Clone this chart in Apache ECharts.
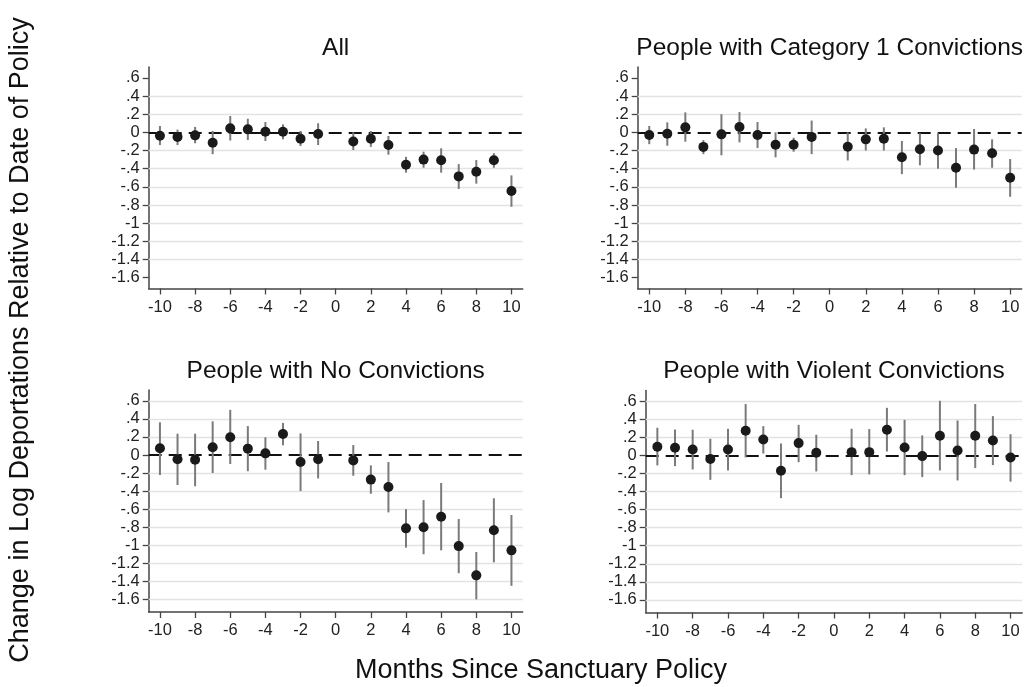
<!DOCTYPE html>
<html>
<head>
<meta charset="utf-8">
<script src="https://cdn.jsdelivr.net/npm/echarts@6/dist/echarts.min.js"></script>
<style>
html,body{margin:0;padding:0;background:#fff;}
#chart{width:1035px;height:687px;}
</style>
</head>
<body>
<div id="chart"></div>
<script>
// ---------- data ----------
const months = [-10,-9,-8,-7,-6,-5,-4,-3,-2,-1,1,2,3,4,5,6,7,8,9,10];

const panelTitles = ['All','People with Category 1 Convictions','People with No Convictions','People with Violent Convictions'];

const allEst = [-0.037,-0.05,-0.033,-0.114,0.044,0.033,0.007,0.007,-0.07,-0.018,-0.1,-0.07,-0.14,-0.356,-0.30,-0.308,-0.485,-0.433,-0.308,-0.646];
const allLo  = [-0.14,-0.14,-0.12,-0.24,-0.09,-0.085,-0.095,-0.077,-0.15,-0.14,-0.195,-0.16,-0.246,-0.444,-0.39,-0.444,-0.624,-0.565,-0.39,-0.82];
const allHi  = [0.07,0.03,0.06,0.015,0.18,0.15,0.114,0.088,0.015,0.1,0.0,0.015,-0.04,-0.27,-0.213,-0.176,-0.35,-0.305,-0.23,-0.474];

const cat1Est = [-0.03,-0.015,0.055,-0.16,-0.022,0.059,-0.03,-0.136,-0.136,-0.05,-0.158,-0.077,-0.07,-0.275,-0.187,-0.2,-0.39,-0.19,-0.23,-0.5];
const cat1Lo  = [-0.13,-0.147,-0.103,-0.24,-0.253,-0.11,-0.173,-0.275,-0.213,-0.24,-0.31,-0.2,-0.2,-0.46,-0.363,-0.4,-0.61,-0.41,-0.39,-0.71];
const cat1Hi  = [0.07,0.11,0.22,-0.085,0.2,0.224,0.114,0.0,-0.06,0.13,0.0,0.044,0.055,-0.095,-0.01,-0.01,-0.173,0.037,-0.077,-0.294];

const noneEst = [0.074,-0.048,-0.052,0.085,0.196,0.07,0.018,0.233,-0.078,-0.048,-0.06,-0.273,-0.355,-0.813,-0.80,-0.684,-1.01,-1.334,-0.835,-1.057];
const noneLo  = [-0.222,-0.333,-0.347,-0.2,-0.1,-0.18,-0.163,0.107,-0.4,-0.26,-0.23,-0.43,-0.636,-1.027,-1.10,-1.057,-1.31,-1.6,-1.19,-1.45];
const noneHi  = [0.362,0.236,0.236,0.373,0.5,0.32,0.196,0.355,0.24,0.155,0.11,-0.115,-0.078,-0.6,-0.5,-0.31,-0.71,-1.075,-0.48,-0.665];

const violEst = [0.096,0.085,0.067,-0.04,0.067,0.273,0.177,-0.17,0.137,0.03,0.037,0.037,0.285,0.089,-0.007,0.218,0.055,0.218,0.166,-0.022];
const violLo  = [-0.11,-0.118,-0.155,-0.27,-0.166,-0.022,0.022,-0.473,-0.074,-0.177,-0.218,-0.21,0.044,-0.218,-0.24,-0.166,-0.277,-0.14,-0.107,-0.29];
const violHi  = [0.307,0.288,0.285,0.185,0.296,0.57,0.325,0.133,0.34,0.23,0.296,0.292,0.528,0.395,0.222,0.606,0.388,0.57,0.436,0.236];

const xTickValues = [-10,-8,-6,-4,-2,0,2,4,6,8,10];
const yTickValues = [0.6,0.4,0.2,0,-0.2,-0.4,-0.6,-0.8,-1,-1.2,-1.4,-1.6];
const yTickLabels = ['.6','.4','.2','0','-.2','-.4','-.6','-.8','-1','-1.2','-1.4','-1.6'];
const gridValuesTop = [0.4,0.2,-0.2,-0.4,-0.6,-0.8,-1,-1.2,-1.4];
const gridValuesBottom = [0.6,0.4,0.2,-0.2,-0.4,-0.6,-0.8,-1,-1.2,-1.4,-1.6];
const zeroLine = [0];

const xTitle = 'Months Since Sanctuary Policy';
const yTitle = 'Change in Log Deportations Relative to Date of Policy';

// ---------- layout / style ----------
const FONT = "'Liberation Sans', Arial, Helvetica, sans-serif";
const panels = [
  {est: allEst,  lo: allLo,  hi: allHi,  grid: {left:148.7, top:67,  width:374,   height:221.5}, xr:[-10.64,10.64], yr:[-1.72,0.72], gl: gridValuesTop},
  {est: cat1Est, lo: cat1Lo, hi: cat1Hi, grid: {left:637.7, top:67,  width:384,   height:221.5}, xr:[-10.64,10.64], yr:[-1.72,0.72], gl: gridValuesTop},
  {est: noneEst, lo: noneLo, hi: noneHi, grid: {left:148.7, top:390, width:374,   height:222},   xr:[-10.64,10.64], yr:[-1.74,0.72], gl: gridValuesBottom},
  {est: violEst, lo: violLo, hi: violHi, grid: {left:645.7, top:390.5, width:376.5, height:222}, xr:[-10.66,10.66], yr:[-1.74,0.72], gl: gridValuesBottom}
];

function yLabel(v){
  for (let i=0;i<yTickValues.length;i++){ if (Math.abs(yTickValues[i]-v)<1e-6) return yTickLabels[i]; }
  return '';
}

const grids=[], xAxes=[], yAxes=[], series=[], graphics=[];
panels.forEach((p,k)=>{
  grids.push(Object.assign({containLabel:false}, p.grid));
  xAxes.push({
    type:'value', gridIndex:k, min:p.xr[0], max:p.xr[1],
    axisLine:{show:true, onZero:false, lineStyle:{color:'#444', width:1.5}},
    axisTick:{show:true, customValues:xTickValues, length:6, lineStyle:{color:'#444', width:1.3}},
    axisLabel:{show:true, customValues:xTickValues, color:'#222', fontSize:16.5, fontFamily:FONT, margin:10},
    splitLine:{show:false}
  });
  yAxes.push({
    type:'value', gridIndex:k, min:p.yr[0], max:p.yr[1],
    axisLine:{show:true, onZero:false, lineStyle:{color:'#444', width:1.5}},
    axisTick:{show:true, customValues:yTickValues, length:6, lineStyle:{color:'#444', width:1.3}},
    axisLabel:{show:true, customValues:yTickValues, color:'#222', fontSize:16.5, fontFamily:FONT, margin:9, formatter:yLabel},
    splitLine:{show:false}
  });
  // gridlines + zero line
  series.push({
    type:'line', xAxisIndex:k, yAxisIndex:k, data:[], silent:true, z:1, zlevel:0,
    markLine:{silent:true, symbol:['none','none'], label:{show:false}, animation:false, z:1,
      lineStyle:{color:'#e3e3e3', width:1.3, type:'solid'},
      data: p.gl.map(v=>({yAxis:v}))}
  });
  series.push({
    type:'line', xAxisIndex:k, yAxisIndex:k, data:[], silent:true, z:2, zlevel:0,
    markLine:{silent:true, symbol:['none','none'], label:{show:false}, animation:false, z:2,
      lineStyle:{color:'#111', width:2, type:[13,7]},
      data: zeroLine.map(v=>({yAxis:v}))}
  });
  // confidence intervals
  series.push({
    type:'custom', xAxisIndex:k, yAxisIndex:k, z:15, silent:true,
    data: months.map((m,i)=>[m, p.lo[i], p.hi[i]]),
    encode:{x:0, y:[1,2]},
    renderItem:function(params, api){
      const a = api.coord([api.value(0), api.value(1)]);
      const b = api.coord([api.value(0), api.value(2)]);
      return {type:'line', shape:{x1:a[0], y1:a[1], x2:b[0], y2:b[1]}, style:{stroke:'#7a7a7a', lineWidth:2}};
    }
  });
  // point estimates
  series.push({
    type:'scatter', xAxisIndex:k, yAxisIndex:k, z:20, silent:true,
    symbol:'circle', symbolSize:10,
    itemStyle:{color:'#1a1a1a', opacity:1},
    data: months.map((m,i)=>[m, p.est[i]])
  });
  graphics.push({
    type:'text', x: p.grid.left + p.grid.width/2, y: p.grid.top - 19,
    style:{text: panelTitles[k], font: '24.5px '+FONT, fill:'#111', align:'center', verticalAlign:'middle'}
  });
});

graphics.push({
  type:'text', x: 541, y: 671,
  style:{text: xTitle, font:'27px '+FONT, fill:'#111', align:'center', verticalAlign:'middle'}
});
graphics.push({
  type:'text', x: 21, y: 340, rotation: Math.PI/2,
  style:{text: yTitle, font:'27px '+FONT, fill:'#111', align:'center', verticalAlign:'middle'}
});

const chart = echarts.init(document.getElementById('chart'), null, {renderer:'canvas'});
chart.setOption({
  backgroundColor:'#ffffff',
  animation:false,
  grid: grids,
  xAxis: xAxes,
  yAxis: yAxes,
  series: series,
  graphic: graphics
});
</script>
</body>
</html>
